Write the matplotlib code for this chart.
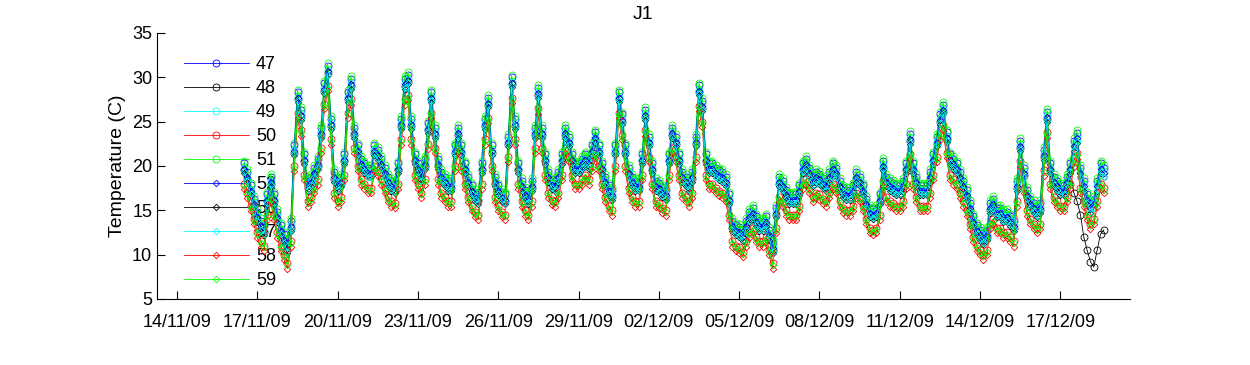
import matplotlib
matplotlib.use("Agg")
import matplotlib.pyplot as plt
import matplotlib.dates as mdates
import pandas as pd
import numpy as np

plt.rcParams['font.family'] = ['Liberation Sans', 'DejaVu Sans']

# sensor names as in legend
sensors = ['47', '48', '49', '50', '51', '52', '56', '57', '58', '59']
colors = ['blue', 'black', 'cyan', 'red', 'lime', 'blue', 'black', 'cyan', 'red', 'lime']
markers = ['o', 'o', 'o', 'o', 'o', 'D', 'D', 'D', 'D', 'D']

sensor_offset = [1.3, 0.5, 0.8, -1.0, 1.6, 0.7, 0.2, 0.3, -1.6, -1.2]

# mean temperature every 3 hours, from 16/11/09 12:00
t_start = '2009-11-16 12:00'
t_mean = [
    19.0, 18.0, 16.5, 15.0,                            # 16/11
    13.5, 12.5, 12.0, 15.5, 17.5, 15.5, 13.5, 12.0,    # 17/11
    11.0, 10.0, 12.5, 21.0, 27.0, 25.0, 20.0, 17.0,    # 18/11
    17.5, 18.5, 19.5, 23.0, 28.0, 30.0, 24.0, 18.0,    # 19/11
    17.0, 17.5, 20.0, 27.0, 28.5, 23.0, 21.0, 19.5,    # 20/11
    19.0, 18.5, 18.5, 21.0, 20.5, 19.5, 18.5, 17.5,    # 21/11
    17.0, 16.8, 19.0, 24.0, 28.5, 29.0, 24.0, 20.0,    # 22/11
    19.0, 18.0, 19.5, 23.5, 27.0, 23.0, 19.5, 18.0,    # 23/11
    17.5, 17.0, 17.0, 21.0, 23.0, 21.0, 19.0, 17.5,    # 24/11
    16.5, 15.8, 15.5, 19.0, 24.0, 26.4, 21.0, 17.5,    # 25/11
    16.5, 15.8, 15.5, 22.0, 28.7, 24.0, 19.0, 17.0,    # 26/11
    16.0, 15.5, 17.0, 23.0, 27.5, 23.0, 20.0, 18.0,    # 27/11
    17.2, 17.0, 18.0, 20.0, 23.0, 22.0, 20.0, 19.0,    # 28/11
    19.0, 19.5, 20.0, 19.5, 21.0, 22.5, 21.0, 19.0,    # 29/11
    17.5, 16.5, 16.0, 21.0, 27.0, 24.5, 21.0, 18.5,    # 30/11
    17.5, 17.0, 17.0, 20.0, 25.0, 22.0, 19.0, 17.0,    # 01/12
    16.8, 16.3, 16.0, 20.0, 23.0, 22.0, 20.0, 18.0,    # 02/12
    17.5, 17.0, 18.0, 22.0, 27.8, 26.0, 20.0, 19.0,    # 03/12
    19.0, 18.5, 18.2, 18.0, 17.5, 15.5, 12.5, 12.0,    # 04/12
    11.8, 11.3, 12.5, 13.5, 14.0, 13.0, 12.5, 12.5,    # 05/12
    13.0, 11.5, 10.0, 14.0, 17.5, 17.0, 16.0, 15.5,    # 06/12
    15.5, 15.5, 16.5, 19.0, 19.5, 18.5, 17.5, 18.0,    # 07/12
    17.8, 17.3, 17.0, 18.0, 19.0, 18.5, 17.0, 16.3,    # 08/12
    16.0, 16.0, 16.5, 18.0, 17.5, 16.5, 15.0, 14.0,    # 09/12
    13.8, 14.0, 15.5, 19.3, 17.5, 17.0, 16.8, 16.5,    # 10/12
    16.5, 17.0, 19.0, 22.3, 19.0, 17.5, 16.5, 16.5,    # 11/12
    16.5, 18.0, 20.0, 22.0, 24.5, 25.6, 22.5, 20.0,    # 12/12
    19.5, 19.0, 18.0, 17.0, 16.0, 14.5, 13.0, 12.0,    # 13/12
    11.5, 11.0, 11.5, 14.5, 15.0, 14.0, 14.0, 13.5,    # 14/12
    13.5, 13.0, 12.5, 17.0, 21.5, 18.5, 16.0, 15.0,    # 15/12
    14.5, 14.0, 14.5, 20.5, 24.8, 19.0, 17.5, 17.0,    # 16/12
    16.5, 16.5, 17.5, 19.0, 21.5, 22.4, 18.5, 17.0,    # 17/12
    15.5, 14.5, 15.0, 17.0, 19.0, 18.5,                # 18/12
]

# sensor 48 drops away at the end (17/12 12:00 onwards)
s48_tail = [17.0, 16.0, 14.5, 12.0, 10.5, 9.2, 8.6, 10.5, 12.3, 12.8]

times = pd.date_range(t_start, periods=len(t_mean), freq='3h')
base = np.array(t_mean)

fig = plt.figure(figsize=(12.5, 3.65), dpi=100)
ax = fig.add_axes([0.1256, 0.181, 0.778, 0.729])

for name, c, m, off in zip(sensors, colors, markers, sensor_offset):
    vals = base + off
    if name == '48':
        vals[-len(s48_tail):] = s48_tail
    ms = 5 if m == 'o' else 3.3
    ax.plot(times, vals, color=c, marker=m, markersize=ms, markerfacecolor='none',
            markeredgewidth=0.6, linewidth=0.6, label=name)

ax.set_ylim(5, 35)
ax.set_yticks(range(5, 36, 5))
ax.set_xlim(pd.Timestamp('2009-11-13 06:00'), pd.Timestamp('2009-12-19 14:00'))
ax.set_xticks(pd.date_range('2009-11-14', '2009-12-17', freq='3D'))
ax.xaxis.set_major_formatter(mdates.DateFormatter('%d/%m/%y'))

ax.spines['top'].set_visible(False)
ax.spines['right'].set_visible(False)
ax.tick_params(direction='in', length=6, labelsize=13, top=False, right=False)
ax.tick_params(axis='x', pad=11)
ax.set_ylabel('Temperature (C)', fontsize=14)
ax.set_title('J1', fontsize=14, pad=10)

leg = ax.legend(loc='upper left', bbox_to_anchor=(0.02, 0.94), frameon=False, fontsize=13,
                handlelength=3.6, labelspacing=0.39, handletextpad=0.4, borderaxespad=0)
leg.set_zorder(1)

fig.savefig('out.png', dpi=100)
